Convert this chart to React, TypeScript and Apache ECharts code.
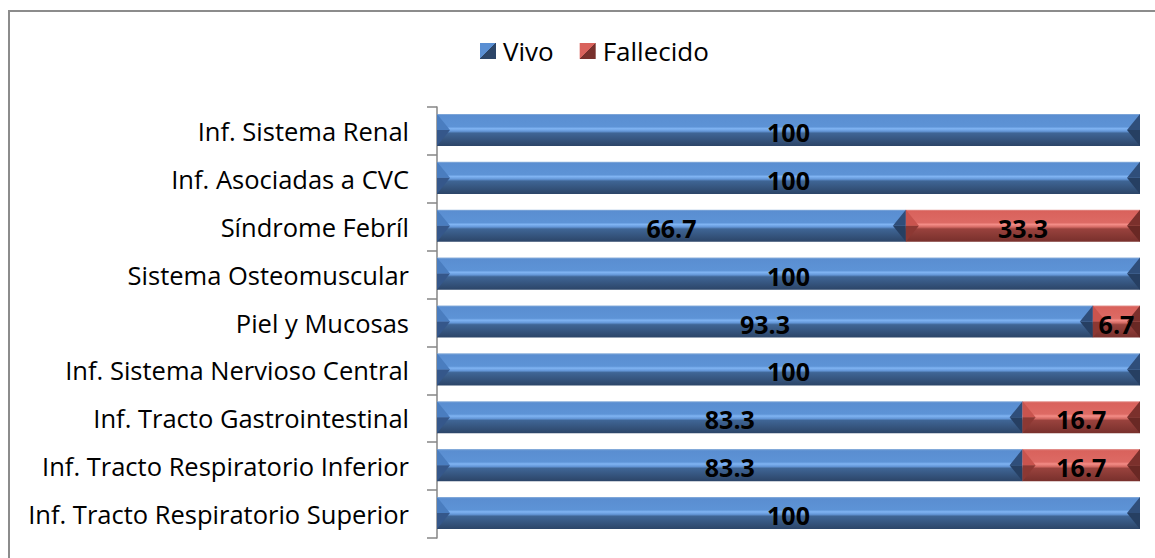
import React, { useEffect, useRef } from "react";
import * as echarts from "echarts";

const categories = [
  "Inf. Tracto Respiratorio Superior",
  "Inf. Tracto Respiratorio Inferior",
  "Inf. Tracto Gastrointestinal",
  "Inf. Sistema Nervioso Central",
  "Piel y Mucosas",
  "Sistema Osteomuscular",
  "Síndrome Febríl",
  "Inf. Asociadas a CVC",
  "Inf. Sistema Renal",
];
const vivo = [100, 83.3, 83.3, 100, 93.3, 100, 66.7, 100, 100];
const fallecido = [0, 16.7, 16.7, 0, 6.7, 0, 33.3, 0, 0];
const seriesNames = ["Vivo", "Fallecido"];

const FONT = "'Open Sans', Lato, sans-serif";

const palettes = {
  Vivo: {
    stops: [
      [0, "#8fb2dc"],
      [0.05, "#5a8ed1"],
      [0.4, "#5d93d6"],
      [0.46, "#80b4f3"],
      [0.54, "#6497d8"],
      [0.6, "#3f6595"],
      [1, "#2c4568"],
    ],
    leftTop: "#4a7dbf",
    leftBot: "#35578a",
    rightTop: "#2f4e7a",
    rightBot: "#263f62",
    legend: ["#5a8fd3", "#2c4568"],
  },
  Fallecido: {
    stops: [
      [0, "#e49894"],
      [0.05, "#d9625c"],
      [0.4, "#dd6a64"],
      [0.46, "#f48d87"],
      [0.54, "#d56b65"],
      [0.6, "#99423d"],
      [1, "#78302c"],
    ],
    leftTop: "#c9544e",
    leftBot: "#8c3833",
    rightTop: "#7b302c",
    rightBot: "#692824",
    legend: ["#d9625c", "#78302c"],
  },
} as any;

function makeRender(name: string) {
  const pal = palettes[name];
  return (params: any, api: any) => {
    const ci = api.value(0);
    const s = api.value(1);
    const e = api.value(2);
    const v = api.value(3);
    if (!(e > s)) return null;
    const p0 = api.coord([s, ci]);
    const p1 = api.coord([e, ci]);
    const band = api.size([0, 1])[1];
    const h = band * 0.67;
    const x0 = p0[0];
    const x1 = p1[0];
    const yc = p0[1] - 1;
    const top = yc - h / 2;
    const bot = yc + h / 2;
    const w = Math.min(13, (x1 - x0) / 3);
    const grad = new echarts.graphic.LinearGradient(
      0, 0, 0, 1,
      pal.stops.map((st: any) => ({ offset: st[0], color: st[1] }))
    );
    return {
      type: "group",
      children: [
        { type: "rect", shape: { x: x0, y: top, width: x1 - x0, height: h }, style: { fill: grad } },
        { type: "polygon", shape: { points: [[x0, top], [x0 + w, yc], [x0, yc]] }, style: { fill: pal.leftTop } },
        { type: "polygon", shape: { points: [[x0, yc], [x0 + w, yc], [x0, bot]] }, style: { fill: pal.leftBot } },
        { type: "polygon", shape: { points: [[x1, top], [x1 - w, yc], [x1, yc]] }, style: { fill: pal.rightTop } },
        { type: "polygon", shape: { points: [[x1, yc], [x1 - w, yc], [x1, bot]] }, style: { fill: pal.rightBot } },
        {
          type: "text",
          x: (x0 + x1) / 2,
          y: yc + 2,
          style: {
            text: String(v),
            align: "center",
            verticalAlign: "middle",
            font: `bold 25px ${FONT}`,
            fill: "#000",
          },
        },
      ],
    };
  };
}

export default function App() {
  const ref = useRef<HTMLDivElement>(null);
  useEffect(() => {
    if (!ref.current) return;
    const chart = echarts.init(ref.current, undefined, { renderer: "svg" });
    const vivoData = categories.map((_, i) => [i, 0, vivo[i], vivo[i]]);
    const falData = categories
      .map((_, i) => [i, vivo[i], vivo[i] + fallecido[i], fallecido[i]])
      .filter((d) => d[3] > 0);
    const legendColor = (name: string) =>
      new echarts.graphic.LinearGradient(0, 0, 1, 1, [
        { offset: 0, color: palettes[name].legend[0] },
        { offset: 0.5, color: palettes[name].legend[0] },
        { offset: 0.5, color: palettes[name].legend[1] },
        { offset: 1, color: palettes[name].legend[1] },
      ]);
    chart.setOption({
      animation: false,
      graphic: [
        {
          type: "rect",
          shape: { x: 9, y: 11, width: 1300, height: 700 },
          style: { fill: "none", stroke: "#8c8c8c", lineWidth: 2 },
          silent: true,
        },
      ],
      legend: {
        data: seriesNames,
        left: 475,
        top: 33,
        icon: "rect",
        itemWidth: 16,
        itemHeight: 16,
        itemGap: 26,
        textStyle: { fontFamily: FONT, fontSize: 26, color: "#000", padding: [0, 0, 0, 2] },
      },
      grid: { left: 437, right: 15, top: 107, bottom: 20, containLabel: false },
      xAxis: { type: "value", min: 0, max: 100, show: false },
      yAxis: {
        type: "category",
        data: categories,
        axisLine: { show: true, lineStyle: { color: "#868686", width: 1.5 } },
        axisTick: { show: true, length: 10, lineStyle: { color: "#868686", width: 1.5 } },
        axisLabel: { margin: 28, fontFamily: FONT, fontSize: 25.5, color: "#000" },
        splitLine: { show: false },
      },
      series: [
        {
          name: "Vivo",
          type: "custom",
          renderItem: makeRender("Vivo"),
          encode: { x: [1, 2], y: 0 },
          itemStyle: { color: legendColor("Vivo") },
          data: vivoData,
        },
        {
          name: "Fallecido",
          type: "custom",
          renderItem: makeRender("Fallecido"),
          encode: { x: [1, 2], y: 0 },
          itemStyle: { color: legendColor("Fallecido") },
          data: falData,
        },
      ],
    });
    return () => chart.dispose();
  }, []);
  return (
    <div
      ref={ref}
      style={{ position: "absolute", left: 0, top: 0, width: 1155, height: 558 }}
    />
  );
}
